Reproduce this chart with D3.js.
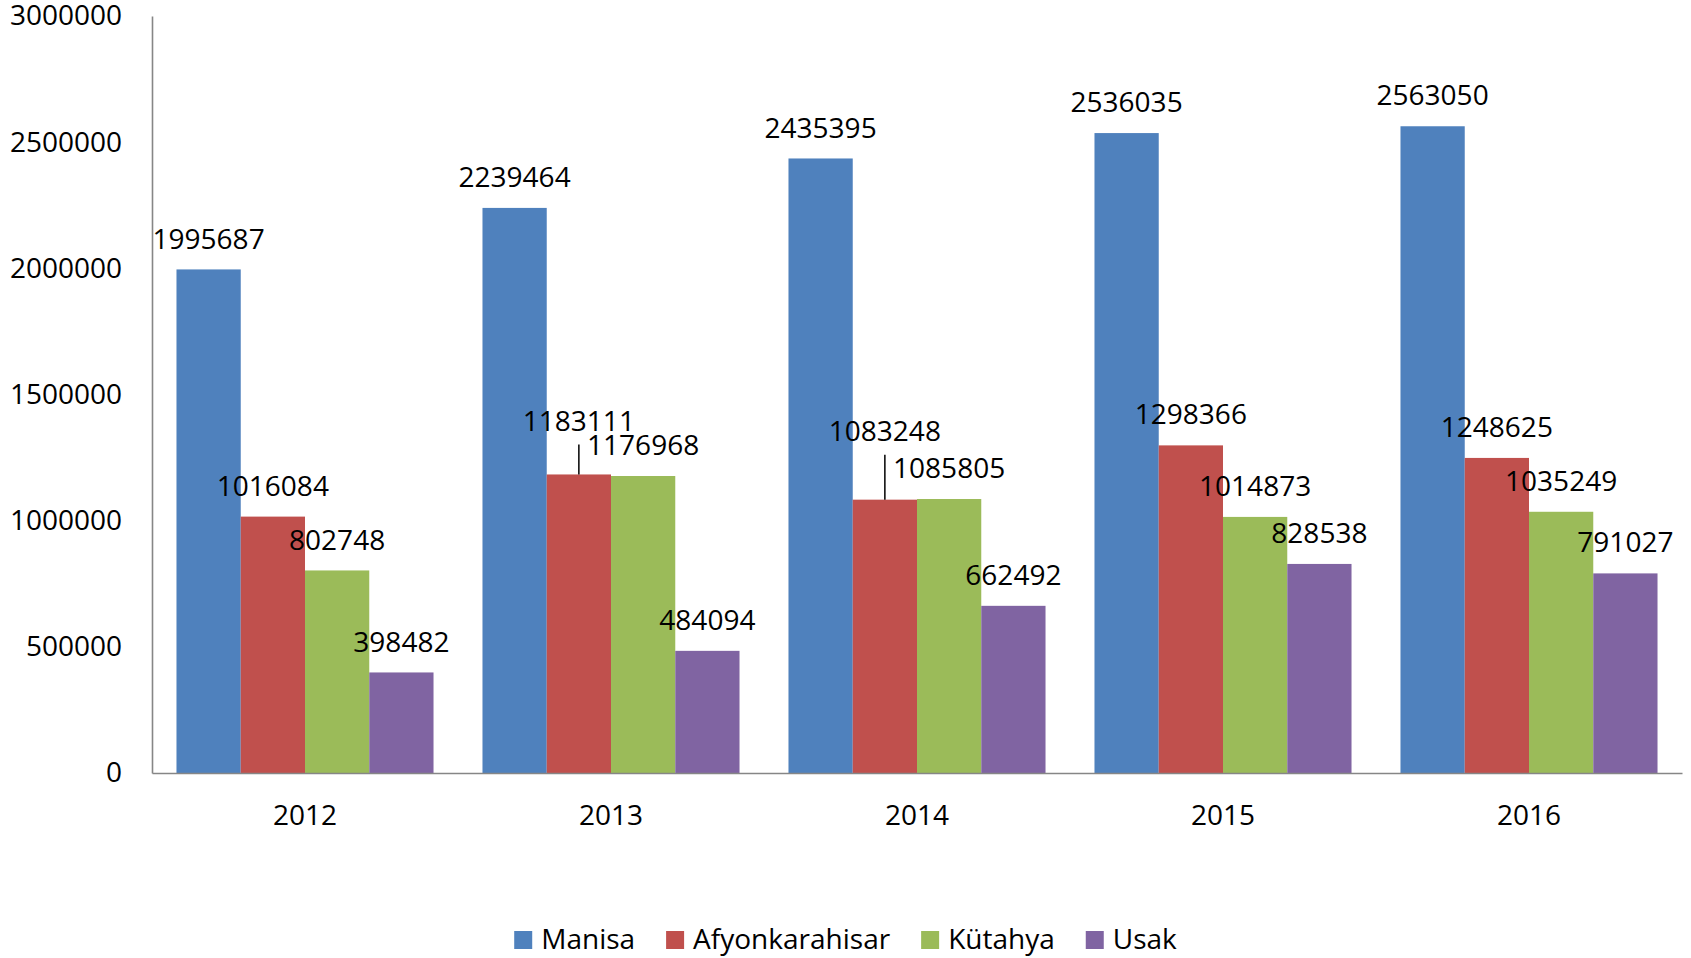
<!DOCTYPE html>
<html>
<head>
<meta charset="utf-8">
<script src="https://cdn.jsdelivr.net/npm/d3@7"></script>
<style>
  body { margin: 0; background: #fff; }
  svg { display: block; }
  text { font-family: "Open Sans", sans-serif; fill: #000; }
</style>
</head>
<body>
<svg id="chart" width="1691" height="958"></svg>
<script>
// Yearly totals per province
const years = ["2012", "2013", "2014", "2015", "2016"];
const seriesNames = ["Manisa", "Afyonkarahisar", "Kütahya", "Usak"];
const manisa  = [1995687, 2239464, 2435395, 2536035, 2563050];
const afyon   = [1016084, 1183111, 1083248, 1298366, 1248625];
const kutahya = [802748, 1176968, 1085805, 1014873, 1035249];
const usak    = [398482, 484094, 662492, 828538, 791027];
const yTicks  = [0, 500000, 1000000, 1500000, 2000000, 2500000, 3000000];

const seriesValues = [manisa, afyon, kutahya, usak];
const colors = ["#4F81BD", "#C0504D", "#9BBB59", "#8064A2"];

// Labels lifted above their neighbours, joined to the bar by a leader line
const labelLift = { "1-2013": 23, "1-2014": 38 };

const W = 1691, H = 958;
const margin = { left: 152, right: 9, top: 16, bottom: 185 };
const fontSize = 28;

const svg = d3.select("#chart");

const y = d3.scaleLinear().domain([0, 3000000]).range([H - margin.bottom, margin.top]);
const x0 = d3.scaleBand().domain(years)
  .range([margin.left, W - margin.right])
  .paddingInner(0.16).paddingOuter(0.08);
const x1 = d3.scaleBand().domain(d3.range(seriesNames.length)).range([0, x0.bandwidth()]);

const rows = years.map((yr, i) => ({
  year: yr,
  values: seriesValues.map((s, k) => ({ k, year: yr, value: s[i] }))
}));

// Bars
const groups = svg.append("g").selectAll("g").data(rows).join("g")
  .attr("transform", d => `translate(${x0(d.year)},0)`);

groups.selectAll("rect").data(d => d.values).join("rect")
  .attr("x", d => x1(d.k))
  .attr("y", d => y(d.value))
  .attr("width", x1.bandwidth())
  .attr("height", d => y(0) - y(d.value))
  .attr("fill", d => colors[d.k]);

// Leader lines for lifted labels
groups.selectAll("line.leader").data(d => d.values.filter(v => labelLift[v.k + "-" + v.year])).join("line")
  .attr("class", "leader")
  .attr("x1", d => x1(d.k) + x1.bandwidth() / 2)
  .attr("x2", d => x1(d.k) + x1.bandwidth() / 2)
  .attr("y1", d => y(d.value))
  .attr("y2", d => y(d.value) - 31 - labelLift[d.k + "-" + d.year] + 24)
  .attr("stroke", "#000").attr("stroke-width", 1.5);

// Value labels
groups.selectAll("text.val").data(d => d.values).join("text")
  .attr("class", "val")
  .attr("x", d => x1(d.k) + x1.bandwidth() / 2)
  .attr("y", d => y(d.value) - 31 - (labelLift[d.k + "-" + d.year] || 0))
  .attr("dy", "0.36em")
  .attr("text-anchor", "middle")
  .style("font-size", fontSize + "px")
  .text(d => d.value);

// Axes
const yAxis = svg.append("g")
  .attr("transform", `translate(${margin.left},0)`)
  .call(d3.axisLeft(y).tickValues(yTicks).tickSize(0).tickSizeOuter(0).tickPadding(30).tickFormat(d3.format("d")));
const xAxis = svg.append("g")
  .attr("transform", `translate(0,${y(0)})`)
  .call(d3.axisBottom(x0).tickSize(0).tickSizeOuter(0).tickPadding(32));

[yAxis, xAxis].forEach(a => {
  a.select(".domain").attr("stroke", "#868686").attr("stroke-width", 1.6);
  a.selectAll("text").style("font-size", fontSize + "px").style("font-family", '"Open Sans", sans-serif').attr("fill", "#000");
});

// Legend, centred under the chart
const legend = svg.append("g");
const items = legend.selectAll("g").data(seriesNames).join("g");
items.append("rect").attr("width", 18).attr("height", 18).attr("y", -18)
  .attr("fill", (d, i) => colors[i]);
items.append("text").attr("x", 27).style("font-size", fontSize + "px").text(d => d);
let cx = 0;
const gap = 31;
items.each(function () {
  const w = 27 + this.querySelector("text").getComputedTextLength();
  d3.select(this).attr("transform", `translate(${cx},0)`);
  cx += w + gap;
});
const legendWidth = cx - gap;
legend.attr("transform", `translate(${(W - legendWidth) / 2},949)`);
</script>
</body>
</html>
